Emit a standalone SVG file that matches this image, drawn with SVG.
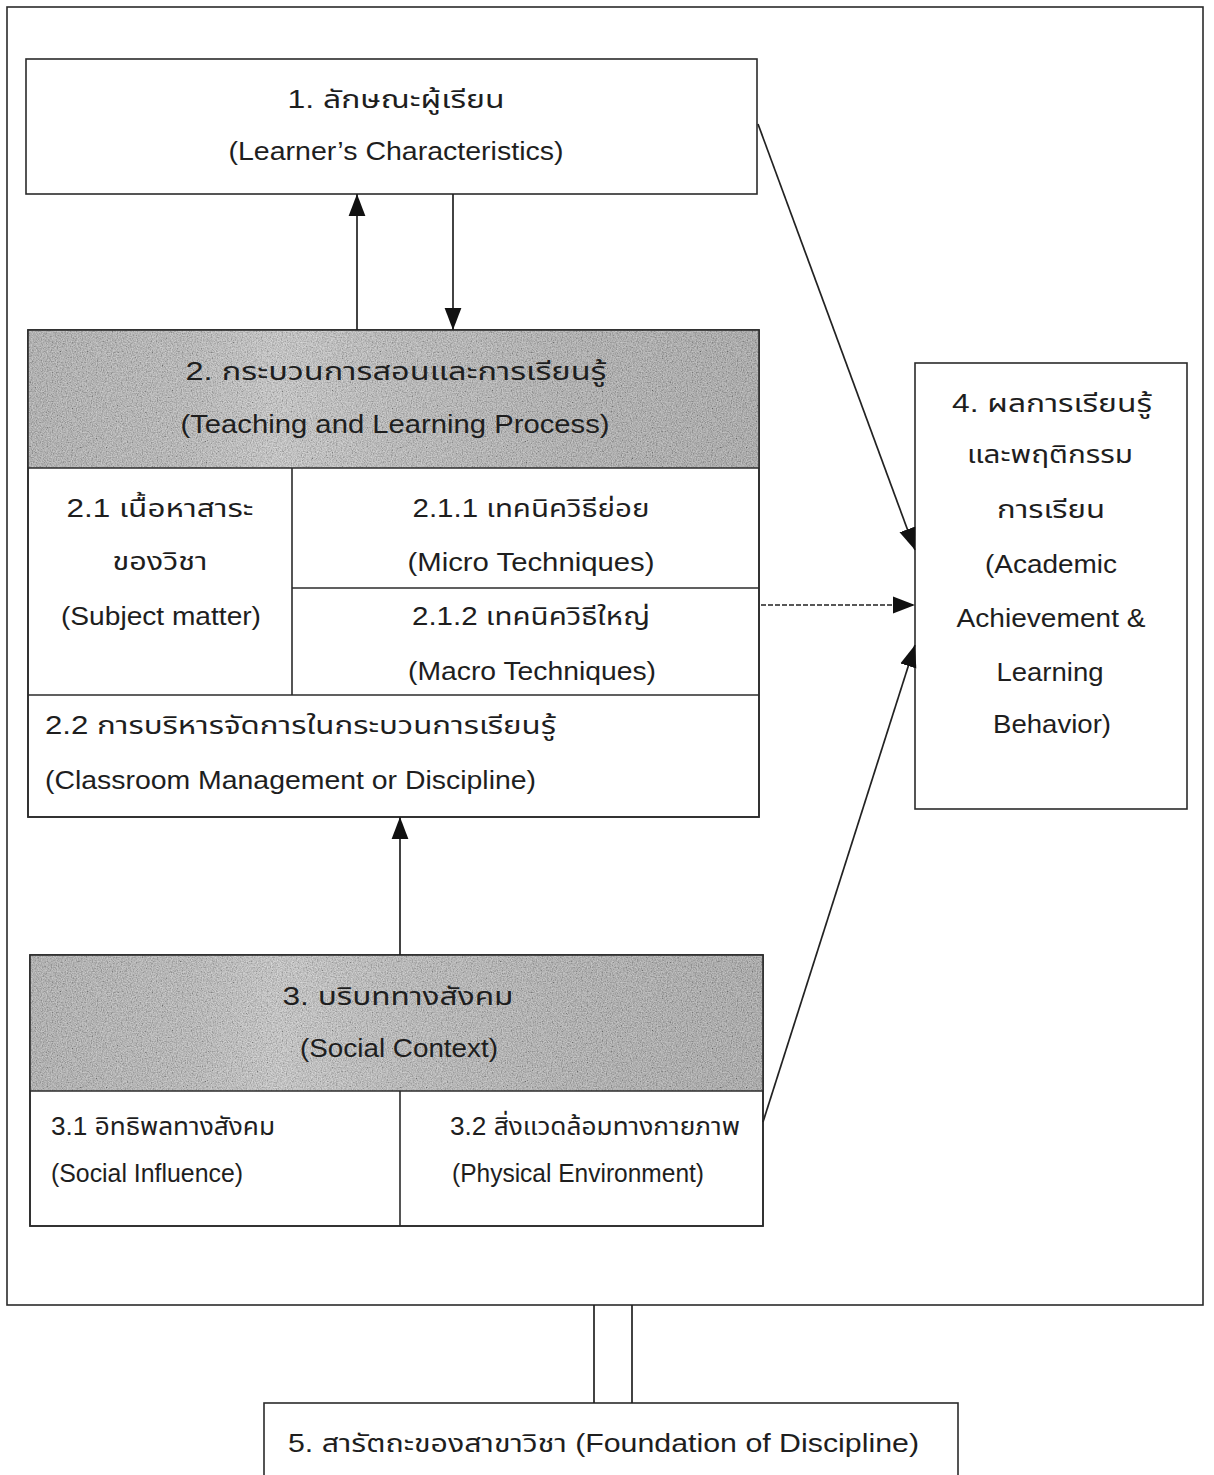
<svg xmlns="http://www.w3.org/2000/svg" width="1214" height="1475" viewBox="0 0 1214 1475">
<style>
.box{fill:#fff;stroke:#2b2b2b;stroke-width:1.6}
.ln{fill:none;stroke:#2b2b2b;stroke-width:1.6}
.con{fill:none;stroke:#222;stroke-width:1.7}
.t{font-family:"Liberation Sans","Noto Sans Thai","Noto Sans",sans-serif;font-size:25px;fill:#1e1e1e}
.m{text-anchor:middle}
.hd{fill:url(#gray)}
</style>
<defs>
<linearGradient id="gray" x1="0" y1="0" x2="1" y2="0">
<stop offset="0" stop-color="#a8a8a8"/>
<stop offset="0.22" stop-color="#b4b4b4"/>
<stop offset="0.34" stop-color="#c6c6c6"/>
<stop offset="0.5" stop-color="#b6b6b6"/>
<stop offset="0.75" stop-color="#a8a8a8"/>
<stop offset="1" stop-color="#a0a0a0"/>
</linearGradient>
<filter id="grain" x="0" y="0" width="1" height="1">
<feTurbulence type="fractalNoise" baseFrequency="0.8" numOctaves="2" seed="3" result="n"/>
<feColorMatrix in="n" type="matrix" values="1.4 0 0 0 -0.2  1.4 0 0 0 -0.2  1.4 0 0 0 -0.2  0 0 0 0 0.4"/>
<feComposite in2="SourceGraphic" operator="in"/>
</filter>
<marker id="ah" markerWidth="22" markerHeight="18" viewBox="0 0 21 16" refX="21" refY="8" orient="auto" markerUnits="userSpaceOnUse">
<path d="M0,0 L21,8 L0,16 Z" fill="#111"/>
</marker>
</defs>

<rect id="frame" x="7" y="7" width="1196" height="1298" class="box" fill="none"/>

<g id="node1">
<rect x="26" y="59" width="731" height="135" class="box"/>
<text class="t m" x="396" y="108" textLength="217" lengthAdjust="spacingAndGlyphs">1.  ลักษณะผู้เรียน</text>
<text class="t m" x="396" y="160" textLength="335" lengthAdjust="spacingAndGlyphs">(Learner’s  Characteristics)</text>
</g>

<g id="node2">
<rect x="28" y="330" width="731" height="487" class="box"/>
<rect x="28" y="330" width="731" height="138" class="hd"/>
<rect x="28" y="330" width="731" height="138" class="hd" filter="url(#grain)"/>
<rect x="28" y="330" width="731" height="487" class="ln"/>
<line x1="28" y1="468" x2="759" y2="468" class="ln"/>
<line x1="292" y1="468" x2="292" y2="695" class="ln"/>
<line x1="292" y1="588" x2="759" y2="588" class="ln"/>
<line x1="28" y1="695" x2="759" y2="695" class="ln"/>
<text class="t m" x="396" y="380" textLength="421" lengthAdjust="spacingAndGlyphs">2.  กระบวนการสอนและการเรียนรู้</text>
<text class="t m" x="395" y="433" textLength="429" lengthAdjust="spacingAndGlyphs">(Teaching and Learning  Process)</text>
<text class="t m" x="160" y="517" textLength="187" lengthAdjust="spacingAndGlyphs">2.1 เนื้อหาสาระ</text>
<text class="t m" x="160" y="570" textLength="95" lengthAdjust="spacingAndGlyphs">ของวิชา</text>
<text class="t m" x="161" y="625" textLength="200" lengthAdjust="spacingAndGlyphs">(Subject matter)</text>
<text class="t m" x="531" y="517" textLength="237" lengthAdjust="spacingAndGlyphs">2.1.1 เทคนิควิธีย่อย</text>
<text class="t m" x="531" y="571" textLength="247" lengthAdjust="spacingAndGlyphs">(Micro  Techniques)</text>
<text class="t m" x="531" y="625" textLength="238" lengthAdjust="spacingAndGlyphs">2.1.2 เทคนิควิธีใหญ่</text>
<text class="t m" x="532" y="680" textLength="248" lengthAdjust="spacingAndGlyphs">(Macro Techniques)</text>
<text class="t" x="45" y="734" textLength="511" lengthAdjust="spacingAndGlyphs">2.2 การบริหารจัดการในกระบวนการเรียนรู้</text>
<text class="t" x="45" y="789" textLength="491" lengthAdjust="spacingAndGlyphs">(Classroom Management or Discipline)</text>
</g>

<g id="node3">
<rect x="30" y="955" width="733" height="271" class="box"/>
<rect x="30" y="955" width="733" height="136" class="hd"/>
<rect x="30" y="955" width="733" height="136" class="hd" filter="url(#grain)"/>
<rect x="30" y="955" width="733" height="271" class="ln"/>
<line x1="30" y1="1091" x2="763" y2="1091" class="ln"/>
<line x1="400" y1="1091" x2="400" y2="1226" class="ln"/>
<text class="t m" x="398" y="1005" textLength="231" lengthAdjust="spacingAndGlyphs">3.  บริบททางสังคม</text>
<text class="t m" x="399" y="1057" textLength="198" lengthAdjust="spacingAndGlyphs">(Social Context)</text>
<text class="t" x="51" y="1135" textLength="224" lengthAdjust="spacingAndGlyphs">3.1 อิทธิพลทางสังคม</text>
<text class="t" x="51" y="1182" textLength="192" lengthAdjust="spacingAndGlyphs">(Social Influence)</text>
<text class="t" x="450" y="1135" textLength="290" lengthAdjust="spacingAndGlyphs">3.2 สิ่งแวดล้อมทางกายภาพ</text>
<text class="t" x="452" y="1182" textLength="252" lengthAdjust="spacingAndGlyphs">(Physical Environment)</text>
</g>

<g id="node4">
<rect x="915" y="363" width="272" height="446" class="box"/>
<text class="t m" x="1052" y="412" textLength="200" lengthAdjust="spacingAndGlyphs">4.  ผลการเรียนรู้</text>
<text class="t m" x="1050" y="463" textLength="166" lengthAdjust="spacingAndGlyphs">และพฤติกรรม</text>
<text class="t m" x="1051" y="518" textLength="108" lengthAdjust="spacingAndGlyphs">การเรียน</text>
<text class="t m" x="1051" y="573" textLength="132" lengthAdjust="spacingAndGlyphs">(Academic</text>
<text class="t m" x="1051" y="627" textLength="189" lengthAdjust="spacingAndGlyphs">Achievement &amp;</text>
<text class="t m" x="1050" y="681" textLength="107" lengthAdjust="spacingAndGlyphs">Learning</text>
<text class="t m" x="1052" y="733" textLength="118" lengthAdjust="spacingAndGlyphs">Behavior)</text>
</g>

<g id="node5">
<rect x="264" y="1403" width="694" height="90" class="box"/>
<text class="t" x="288" y="1452" textLength="631" lengthAdjust="spacingAndGlyphs">5.  สารัตถะของสาขาวิชา  (Foundation of Discipline)</text>
</g>

<g id="connectors">
<line x1="357" y1="330" x2="357" y2="194" class="con" marker-end="url(#ah)"/>
<line x1="453" y1="194" x2="453" y2="330" class="con" marker-end="url(#ah)"/>
<line x1="758" y1="124" x2="915" y2="550" class="con" marker-end="url(#ah)"/>
<line x1="761" y1="605" x2="915" y2="605" class="con" stroke-dasharray="5,2" marker-end="url(#ah)"/>
<line x1="763" y1="1122" x2="915" y2="645" class="con" marker-end="url(#ah)"/>
<line x1="400" y1="955" x2="400" y2="817" class="con" marker-end="url(#ah)"/>
<line x1="594" y1="1305" x2="594" y2="1403" class="con"/>
<line x1="632" y1="1305" x2="632" y2="1403" class="con"/>
</g>
</svg>
